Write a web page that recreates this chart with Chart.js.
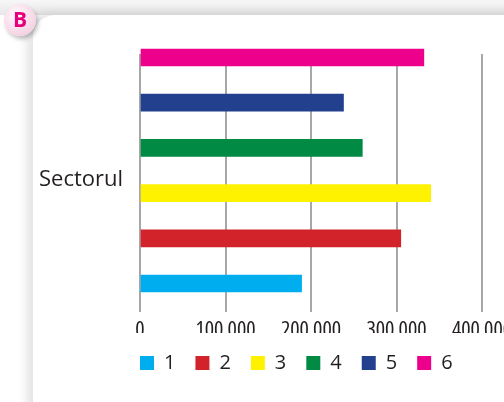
<!DOCTYPE html>
<html>
<head>
<meta charset="utf-8">
<script src="https://cdn.jsdelivr.net/npm/chart.js@4"></script>
<style>
  html, body { margin: 0; padding: 0; background: #fff; }
  #wrap { position: relative; width: 504px; height: 402px; overflow: hidden; background: #fff; }
  #topband { position: absolute; left: 0; top: 0; width: 504px; height: 15px;
    background: linear-gradient(#f7f7f7, #e7e7e7); }
  #card { position: absolute; left: 33px; top: 15px; width: 600px; height: 500px; background: #fff;
    border-top-left-radius: 22px; box-shadow: -7px -3px 9px rgba(0,0,0,0.10); }
  #chart { position: absolute; left: 0; top: 0; }
  #badge { position: absolute; left: 4px; top: 4px; width: 32px; height: 32px; border-radius: 50%;
    background: radial-gradient(circle at 40% 35%, #ffffff 0%, #fbe6f0 35%, #efc3d8 100%);
    box-shadow: 2px 3px 4px rgba(0,0,0,0.25);
    font: bold 21px "Open Sans", sans-serif; color: #e6007e; text-align: center; line-height: 31px; }
</style>
</head>
<body>
<div id="wrap">
  <div id="topband"></div>
  <div id="card"></div>
  <canvas id="chart" width="560" height="402"></canvas>
  <div id="badge">B</div>
</div>
<script>
const sectors = ['1', '2', '3', '4', '5', '6'];
const values = [189000, 305000, 340000, 260000, 238000, 332000];
const colors = ['#00aeef', '#d2232a', '#fff200', '#008a44', '#23408f', '#ec008c'];
const xTicks = [0, 100000, 200000, 300000, 400000];
const axisTitle = 'Sectorul';

const tickFont = { family: '"Open Sans", sans-serif', size: 22, weight: 'condensed' };
const legendFont = { family: '"Open Sans", sans-serif', size: 20 };

const datasets = sectors.map((s, i) => ({
  label: s,
  data: [{ x: values[i], y: i + 1 }],
  backgroundColor: colors[i],
  borderWidth: 0,
  barThickness: 17,
  grouped: false,
  clip: false
}));

const sideTitle = {
  id: 'sideTitle',
  afterDraw(chart) {
    const ctx = chart.ctx;
    ctx.save();
    ctx.font = '22px "Open Sans", sans-serif';
    ctx.fillStyle = '#231f20';
    ctx.textBaseline = 'alphabetic';
    ctx.textAlign = 'left';
    ctx.fillText(axisTitle, 39, 186);
    ctx.restore();
  }
};

new Chart(document.getElementById('chart'), {
  type: 'bar',
  data: { datasets },
  options: {
    indexAxis: 'y',
    responsive: false,
    animation: false,
    layout: { padding: { left: 120, right: 20, top: 54, bottom: 19 } },
    scales: {
      x: {
        type: 'linear',
        min: 0,
        max: 400000,
        offset: false,
        afterBuildTicks(scale) { scale.ticks = xTicks.map(v => ({ value: v })); },
        afterFit(scale) { scale.height = 33; },
        ticks: {
          color: '#231f20',
          font: tickFont,
          padding: 6,
          callback: v => String(v).replace(/\B(?=(\d{3})+(?!\d))/g, ' ')
        },
        grid: { color: '#a7a7a7', lineWidth: 2, tickLength: 12, drawTicks: true, offset: false },
        border: { display: false }
      },
      y: {
        type: 'linear',
        min: 0.635,
        max: 6.077,
        offset: false,
        afterFit(scale) { scale.width = 20; },
        ticks: { display: false },
        grid: { display: false, offset: false },
        border: { display: false }
      },
      yRight: {
        type: 'linear',
        position: 'right',
        afterFit(scale) { scale.width = 58; },
        ticks: { display: false },
        grid: { display: false },
        border: { display: false }
      }
    },
    plugins: {
      legend: {
        position: 'bottom',
        align: 'start',
        labels: {
          boxWidth: 14,
          boxHeight: 14,
          padding: 20,
          color: '#231f20',
          font: legendFont
        }
      },
      tooltip: { enabled: false }
    }
  },
  plugins: [sideTitle]
});
</script>
</body>
</html>
